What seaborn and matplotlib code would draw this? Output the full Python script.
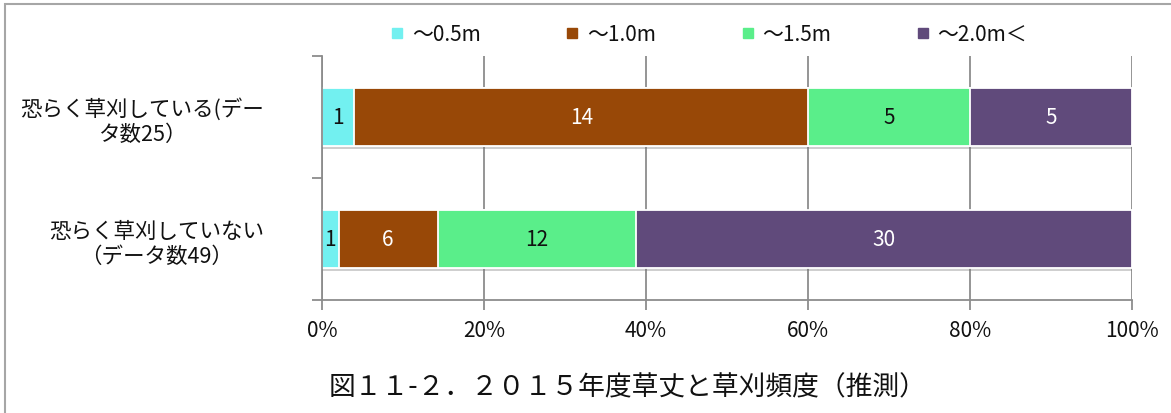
import numpy as np
import matplotlib
matplotlib.use("Agg")
import matplotlib.pyplot as plt
import matplotlib.patheffects as pe
from matplotlib.patches import Rectangle
from matplotlib.lines import Line2D
import seaborn as sns

# Survey groups (y categories) and grass-height classes (stack segments)
groups = ["恐らく草刈している(デー\nタ数25）", "恐らく草刈していない\n（データ数49）"]
height_classes = ["～0.5m", "～1.0m", "～1.5m", "～2.0m＜"]

# Number of sites per height class, one value per group
count_to_05 = [1, 1]
count_to_10 = [14, 6]
count_to_15 = [5, 12]
count_over_20 = [5, 30]

title = "図１１-２．２０１５年度草丈と草刈頻度（推測）"

colors = ["#72F0F0", "#984807", "#5AEE8A", "#604A7B"]
label_colors = ["#111111", "white", "#111111", "white"]

sns.set_theme(style="ticks")
plt.rcParams["font.family"] = ["Noto Sans CJK JP", "DejaVu Sans"]

counts = np.array([count_to_05, count_to_10, count_to_15, count_over_20], dtype=float)
totals = counts.sum(axis=0)
pct = counts / totals * 100.0
cum = np.cumsum(pct, axis=0)

fig = plt.figure(figsize=(11.71, 4.14), dpi=100)
ax = fig.add_axes([322 / 1171, 113 / 414, 810 / 1171, 244 / 414])

# 100% stacked bars: draw cumulative totals from longest to shortest
for k in reversed(range(len(height_classes))):
    n_before = len(ax.patches)
    sns.barplot(x=cum[k], y=groups, orient="h", order=groups, color=colors[k],
                saturation=1, width=0.475, edgecolor="white", linewidth=1.3, ax=ax)
    if k == len(height_classes) - 1:
        for p in ax.patches[n_before:]:
            p.set_path_effects([pe.SimplePatchShadow(offset=(0, -2.5), shadow_rgbFace="#777777",
                                                     alpha=0.35), pe.Normal()])

# Segment value labels
for k in range(len(height_classes)):
    start = cum[k] - pct[k]
    for i in range(len(groups)):
        ax.text(start[i] + pct[k][i] / 2, i, f"{int(counts[k][i])}", ha="center", va="center",
                fontsize=15, color=label_colors[k])

ax.set_xlim(0, 100)
ax.set_ylim(1.5, -0.5)
ax.set_xlabel("")
ax.set_ylabel("")

grid_c = "#8c8c8c"
ax.set_axisbelow(True)
ax.xaxis.grid(True, color=grid_c, linewidth=1.3)
ax.yaxis.grid(False)

ax.set_xticks(np.arange(0, 101, 20))
ax.set_xticklabels([f"{v}%" for v in range(0, 101, 20)])
ax.tick_params(axis="x", length=7, width=1.3, color=grid_c, direction="out", pad=7,
               labelsize=15, labelcolor="#111111")

ax.set_yticks([0, 1])
ax.set_yticklabels(groups, multialignment="center")
ax.set_yticks([-0.5, 0.5, 1.5], minor=True)
ax.tick_params(axis="y", which="major", length=0, pad=42, labelsize=15.5, labelcolor="#111111")
ax.tick_params(axis="y", which="minor", length=7, width=1.3, color=grid_c, direction="out", left=True)

for side in ["top", "right"]:
    ax.spines[side].set_visible(False)
for side in ["left", "bottom"]:
    ax.spines[side].set_color(grid_c)
    ax.spines[side].set_linewidth(1.3)

handles = [Line2D([], [], marker="s", ls="", color=c, markersize=7) for c in colors]
fig.legend(handles, height_classes, loc="center", bbox_to_anchor=(709 / 1171, 379 / 414),
           ncol=4, frameon=False, fontsize=15, handlelength=0.6, handletextpad=0.4,
           columnspacing=4.1, labelcolor="#111111")

fig.text(628 / 1171, 26 / 414, title, ha="center", va="center", fontsize=19.3, color="#111111")

# Outer frame (left and top edges visible)
fig.add_artist(Rectangle((5 / 1171, -0.5), 2.0, 409 / 414 + 0.5, transform=fig.transFigure,
                         fill=False, edgecolor="#a6a6a6", linewidth=1.5))

fig.savefig("out.png", dpi=100)
